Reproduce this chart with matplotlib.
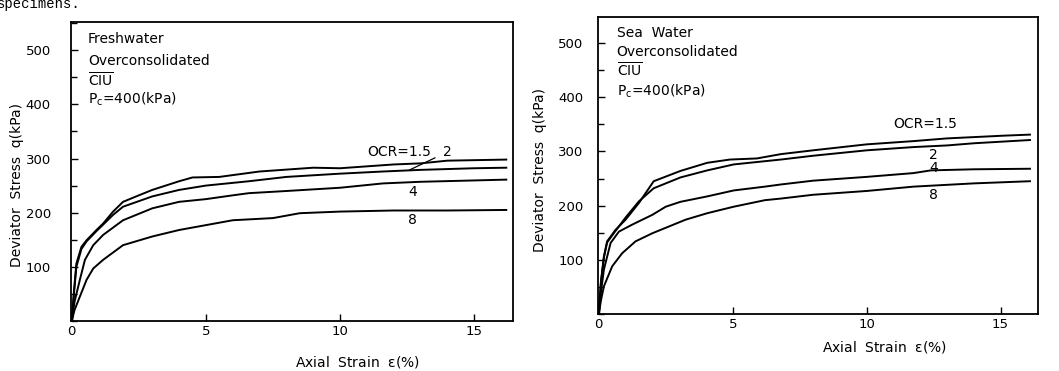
import numpy as np
import matplotlib.pyplot as plt
from matplotlib.ticker import MultipleLocator

plt.rcParams['font.family'] = ['DejaVu Sans']
plt.rcParams['mathtext.fontset'] = 'dejavusans'

# Freshwater, overconsolidated
fw_x_15 = [0, 0.08, 0.17, 0.36, 0.55, 0.92, 1.17, 1.54, 1.91, 2.5, 3, 4, 4.5, 5.5, 7, 9, 10, 12, 13, 14, 16.2]
fw_y_15 = [0, 55, 106, 137, 149, 168, 180, 202, 220, 232, 242, 258, 265, 266, 276, 283, 282, 289, 291, 296, 298]
fw_x_2 = [0, 0.08, 0.17, 0.36, 0.55, 0.92, 1.17, 1.54, 1.91, 3, 4, 5, 6.6, 8, 10, 11.6, 13, 15, 16.2]
fw_y_2 = [0, 50, 100, 133, 147, 166, 178, 196, 211, 230, 242, 250, 258, 266, 272, 276, 279, 282, 283]
fw_x_4 = [0, 0.1, 0.3, 0.49, 0.8, 1.17, 1.91, 3, 4, 5, 6, 6.6, 8, 10, 11.6, 13, 16.2]
fw_y_4 = [0, 35, 76, 113, 140, 159, 186, 208, 220, 225, 232, 236, 240, 246, 254, 257, 261]
fw_x_8 = [0, 0.1, 0.3, 0.55, 0.8, 1.17, 1.91, 3, 4, 5, 6, 7.5, 8.5, 10, 12, 14, 16.2]
fw_y_8 = [0, 20, 45, 76, 97, 113, 140, 156, 168, 177, 186, 190, 199, 202, 204, 204, 205]

# Sea water, overconsolidated
sw_x_15 = [0, 0.08, 0.19, 0.31, 0.62, 1.0, 1.5, 2.05, 3.05, 4.05, 4.9, 5.9, 6.8, 8.0, 10, 11.75, 13, 15.1, 16.1]
sw_y_15 = [0, 60, 106, 134, 155, 174, 205, 245, 264, 279, 285, 287, 295, 302, 313, 319, 324, 329, 331]
sw_x_2 = [0, 0.08, 0.19, 0.31, 0.62, 1.0, 1.5, 2.05, 3.05, 4.05, 5.04, 6.8, 8, 10, 11.75, 13, 14, 16.1]
sw_y_2 = [0, 58, 104, 132, 153, 178, 208, 232, 252, 265, 276, 285, 292, 302, 308, 311, 315, 321]
sw_x_4 = [0, 0.08, 0.19, 0.44, 0.75, 1.25, 2.0, 2.5, 3.05, 4.05, 5.04, 6.2, 6.8, 8, 10, 11.75, 12.4, 14, 16.1]
sw_y_4 = [0, 40, 82, 131, 152, 165, 183, 198, 207, 217, 228, 235, 239, 246, 253, 260, 265, 267, 268]
sw_x_8 = [0, 0.08, 0.19, 0.5, 0.87, 1.37, 2.0, 3.24, 4.05, 5.04, 6.2, 6.8, 8, 10, 11.75, 14, 16.1]
sw_y_8 = [0, 25, 51, 88, 112, 134, 149, 174, 186, 198, 210, 213, 220, 227, 235, 241, 245]

fig = plt.figure(figsize=(10.59, 3.71), dpi=100)
ax1 = fig.add_axes([71/1059, 50/371, 442/1059, 299/371])
ax2 = fig.add_axes([598/1059, 57/371, 440/1059, 297/371])

fs = 9.5
for ax, ylim, xlim, ypad in [(ax1, 552, 16.45, 14.5), (ax2, 548, 16.4, 10.5)]:
    ax.set_xlim(-0.03, xlim)
    ax.set_ylim(0, ylim)
    ax.xaxis.set_major_locator(MultipleLocator(5))
    ax.yaxis.set_minor_locator(MultipleLocator(50))
    ax.set_yticks([100, 200, 300, 400, 500])
    ax.tick_params(direction='in', length=5, width=1, labelsize=fs)
    ax.tick_params(axis='x', pad=3)
    ax.tick_params(axis='y', pad=ypad)
    ax.tick_params(which='minor', direction='in', length=4, width=1)
    for s in ax.spines.values():
        s.set_linewidth(1.3)

lw = 1.4
ax1.plot(fw_x_15, fw_y_15, color='black', lw=lw)
ax1.plot(fw_x_2, fw_y_2, color='black', lw=lw)
ax1.plot(fw_x_4, fw_y_4, color='black', lw=lw)
ax1.plot(fw_x_8, fw_y_8, color='black', lw=lw)

ax2.plot(sw_x_15, sw_y_15, color='black', lw=lw)
ax2.plot(sw_x_2, sw_y_2, color='black', lw=lw)
ax2.plot(sw_x_4, sw_y_4, color='black', lw=lw)
ax2.plot(sw_x_8, sw_y_8, color='black', lw=lw)

tf = 10
# text blocks
ax1.text(0.6, 520, 'Freshwater', fontsize=tf, va='center')
ax1.text(0.6, 480, 'Overconsolidated', fontsize=tf, va='center')
ax1.text(0.6, 445, r'$\overline{\mathregular{CIU}}$', fontsize=tf, va='center')
ax1.text(0.6, 410, r'$\mathregular{P_c}$=400(kPa)', fontsize=tf, va='center')

ax2.text(0.67, 519, 'Sea  Water', fontsize=tf, va='center')
ax2.text(0.67, 483, 'Overconsolidated', fontsize=tf, va='center')
ax2.text(0.67, 449, r'$\overline{\mathregular{CIU}}$', fontsize=tf, va='center')
ax2.text(0.67, 411, r'$\mathregular{P_c}$=400(kPa)', fontsize=tf, va='center')

# curve labels
ax1.text(11.0, 312, 'OCR=1.5', fontsize=tf, va='center')
ax1.annotate('2', xy=(12.6, 279), xytext=(14.0, 312), fontsize=tf, va='center', ha='center',
             arrowprops=dict(arrowstyle='-', color='black', lw=0.9, shrinkA=4, shrinkB=0))
ax1.text(12.7, 238, '4', fontsize=tf, va='center', ha='center')
ax1.text(12.7, 186, '8', fontsize=tf, va='center', ha='center')

ax2.text(11.0, 351, 'OCR=1.5', fontsize=tf, va='center')
ax2.text(12.5, 294, '2', fontsize=tf, va='center', ha='center')
ax2.text(12.5, 269, '4', fontsize=tf, va='center', ha='center')
ax2.text(12.5, 220, '8', fontsize=tf, va='center', ha='center')

# axis labels
fig.text(17/1059, 1 - 185/371, 'Deviator  Stress  q(kPa)', rotation=90, fontsize=tf, ha='center', va='center')
fig.text(357/1059, 1 - 362/371, r'Axial  Strain  $\mathregular{\epsilon}$(%)', fontsize=tf, ha='center', va='center')
fig.text(540/1059, 1 - 170/371, 'Deviator  Stress  q(kPa)', rotation=90, fontsize=tf, ha='center', va='center')
fig.text(884/1059, 1 - 347/371, r'Axial  Strain  $\mathregular{\epsilon}$(%)', fontsize=tf, ha='center', va='center')

# leftover caption text from the page
fig.text(-3/1059, 1 - 8/371, 'specimens.', fontsize=10, family='Liberation Mono', va='baseline')

fig.savefig('out.png', dpi=100)
